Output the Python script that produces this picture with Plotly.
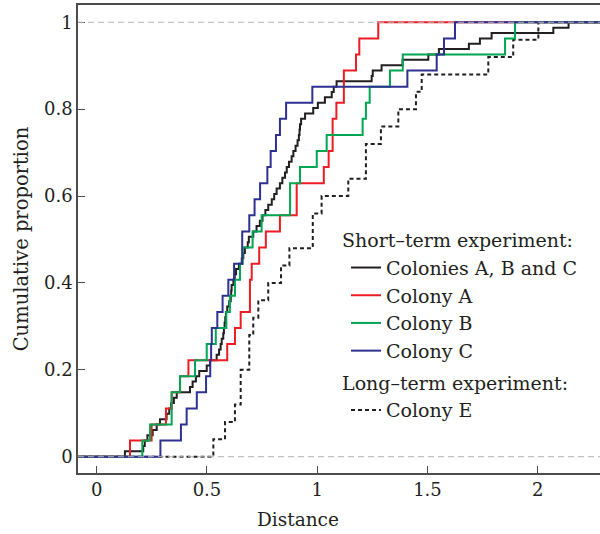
import numpy as np
import plotly.graph_objects as go

colonies_abc = [0.128, 0.211, 0.218, 0.23, 0.254, 0.272, 0.287, 0.317, 0.329, 0.338,
                0.35, 0.363, 0.423, 0.435, 0.45, 0.465, 0.499, 0.514, 0.544, 0.555,
                0.562, 0.567, 0.574, 0.577, 0.58, 0.583, 0.586, 0.592, 0.601, 0.608,
                0.61, 0.612, 0.62, 0.626, 0.632, 0.645, 0.658, 0.665, 0.672, 0.685,
                0.69, 0.71, 0.725, 0.74, 0.752, 0.765, 0.778, 0.794, 0.805, 0.816,
                0.831, 0.842, 0.854, 0.862, 0.872, 0.884, 0.892, 0.902, 0.911, 0.917,
                0.92, 0.922, 0.927, 0.945, 0.982, 1.003, 1.035, 1.066, 1.075, 1.088,
                1.247, 1.252, 1.292, 1.387, 1.504, 1.552, 1.688, 1.738, 1.791, 2.071, 2.14]
colony_a = [0.151, 0.249, 0.314, 0.34, 0.378, 0.416, 0.592, 0.627, 0.653, 0.695, 0.695,
            0.703, 0.737, 0.767, 0.831, 0.907, 0.907, 1.03, 1.052, 1.07, 1.07, 1.087,
            1.121, 1.121, 1.176, 1.191, 1.277]
colony_b = [0.207, 0.242, 0.34, 0.34, 0.378, 0.446, 0.499, 0.54, 0.588, 0.604, 0.627,
            0.65, 0.662, 0.707, 0.748, 0.877, 0.877, 0.922, 0.998, 1.043, 1.206, 1.221,
            1.238, 1.33, 1.388, 1.852, 1.897]
colony_c = [0.289, 0.382, 0.408, 0.454, 0.496, 0.515, 0.519, 0.522, 0.547, 0.571, 0.597,
            0.623, 0.66, 0.66, 0.692, 0.716, 0.741, 0.774, 0.789, 0.813, 0.831, 0.859,
            0.978, 1.409, 1.542, 1.575, 1.625]
colony_e = [0.529, 0.582, 0.627, 0.653, 0.653, 0.692, 0.692, 0.71, 0.733, 0.778, 0.836,
            0.874, 0.98, 0.98, 1.02, 1.141, 1.221, 1.221, 1.289, 1.368, 1.448, 1.474,
            1.776, 1.889, 2.003]

series_names = ["Colonies A, B and C", "Colony A", "Colony B", "Colony C", "Colony E"]
x_ticks = [0, 0.5, 1, 1.5, 2]
x_tick_labels = ["0", "0.5", "1", "1.5", "2"]
y_ticks = [0, 0.2, 0.4, 0.6, 0.8, 1]
y_tick_labels = ["0", "0.2", "0.4", "0.6", "0.8", "1"]

X_RANGE = [-0.0848, 2.2826]
Y_RANGE = [-0.0375, 1.0398]
FONT = "DejaVu Serif"
INK = "#231F20"


def ecdf(values):
    v = np.sort(np.asarray(values, dtype=float))
    p = np.arange(1, len(v) + 1) / len(v)
    xs = np.concatenate([[X_RANGE[0] - 1], v, [X_RANGE[1] + 1]])
    ys = np.concatenate([[0.0], p, [1.0]])
    return xs, ys


styles = [
    dict(data=colonies_abc, color="#231F20", dash="solid", group="short", rank=1),
    dict(data=colony_a, color="#ED1C24", dash="solid", group="short", rank=2),
    dict(data=colony_b, color="#00A651", dash="solid", group="short", rank=3),
    dict(data=colony_c, color="#2E3192", dash="solid", group="short", rank=4),
    dict(data=colony_e, color="#231F20", dash="4px,3px", group="long", rank=5),
]
draw_order = [4, 0, 1, 2, 3]

fig = go.Figure()
for i in draw_order:
    s = styles[i]
    xs, ys = ecdf(s["data"])
    fig.add_trace(go.Scatter(
        x=xs, y=ys, mode="lines", name=series_names[i],
        line=dict(color=s["color"], width=2, dash=s["dash"], shape="hv"),
        legendgroup=s["group"], legendrank=s["rank"],
        legendgrouptitle=dict(
            text="Short\u2013term experiment:" if s["group"] == "short" else "Long\u2013term experiment:",
            font=dict(family=FONT, size=19, color=INK)),
    ))

for yv in [0, 1]:
    fig.add_shape(type="line", xref="paper", x0=0, x1=1, yref="y", y0=yv, y1=yv,
                  line=dict(color="#B4B4B4", width=1, dash="6px,4px"), layer="above")

axis_common = dict(
    showgrid=False, zeroline=False, showline=True, linecolor="#4D4D4D", linewidth=1.5,
    ticks="inside", ticklen=7, tickwidth=1.2, tickcolor="#4D4D4D",
    tickfont=dict(family=FONT, size=18, color=INK),
)
fig.update_layout(
    width=600, height=534,
    margin=dict(l=78, r=0, t=5, b=61),
    paper_bgcolor="white", plot_bgcolor="white",
    font=dict(family=FONT, color=INK),
    xaxis=dict(range=X_RANGE, tickvals=x_ticks, ticktext=x_tick_labels, mirror=True,
               **axis_common),
    yaxis=dict(range=Y_RANGE, tickvals=y_ticks, ticktext=y_tick_labels,
               title=dict(text="Cumulative proportion", font=dict(family=FONT, size=19.5, color=INK), standoff=10),
               **axis_common),
    legend=dict(x=0.4962, y=0.5385, xanchor="left", yanchor="top", bgcolor="rgba(0,0,0,0)",
                font=dict(family=FONT, size=19, color=INK), tracegroupgap=4,
                traceorder="grouped", indentation=9),
    annotations=[dict(text="Distance", xref="paper", yref="paper", x=0.4215, y=-0.1,
                      xanchor="center", yanchor="middle", showarrow=False,
                      font=dict(family=FONT, size=18.5, color=INK))],
    showlegend=True,
)
fig.write_html("out.html")
